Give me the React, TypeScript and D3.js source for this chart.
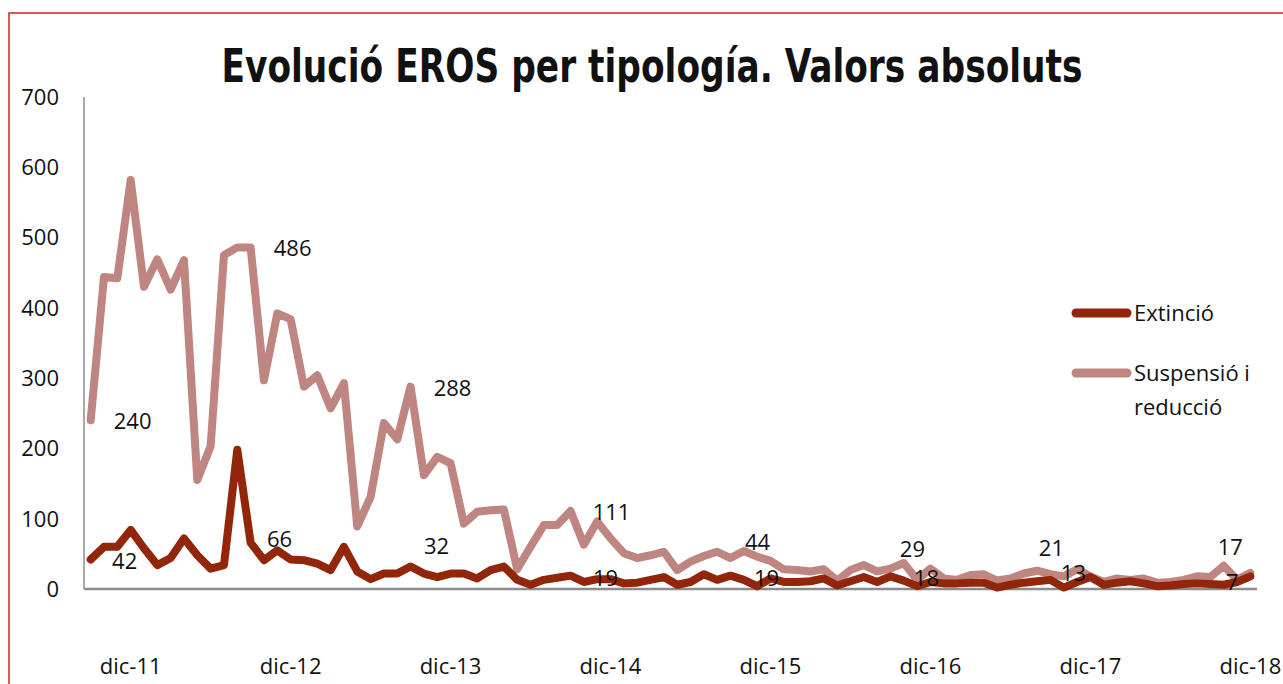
import { useEffect, useRef } from 'react'
import * as d3 from 'd3'

const title = 'Evolució EROS per tipología. Valors absoluts'

const seriesNames = ['Extinció', 'Suspensió i reducció']

// monthly values, sep-11 .. dic-18
const extincio = [
  42, 60, 60, 84, 58, 34, 44, 72, 48, 29, 34, 198,
  66, 41, 55, 42, 41, 36, 27, 60, 25, 14, 22, 22,
  32, 22, 17, 22, 22, 15, 27, 32, 13, 6, 13, 16,
  19, 10, 14, 14, 8, 9, 13, 17, 6, 10, 21, 13,
  19, 13, 4, 15, 10, 10, 11, 15, 5, 11, 17, 10,
  18, 12, 4, 10, 8, 8, 9, 9, 2, 6, 9, 11,
  13, 2, 10, 17, 6, 9, 11, 8, 4, 5, 7, 8,
  7, 6, 10, 18,
]

const suspensio = [
  240, 444, 442, 582, 430, 469, 426, 468, 155, 203, 475, 486,
  486, 297, 392, 384, 288, 304, 257, 293, 89, 131, 236, 213,
  288, 162, 188, 179, 93, 110, 112, 113, 28, 60, 91, 91,
  111, 63, 96, 72, 51, 44, 48, 53, 27, 39, 47, 53,
  44, 54, 46, 40, 28, 27, 25, 28, 12, 27, 34, 25,
  29, 37, 13, 29, 15, 13, 20, 21, 12, 15, 22, 26,
  21, 18, 28, 18, 10, 15, 13, 15, 9, 10, 13, 18,
  17, 33, 13, 23,
]

const monthAbbr = ['ene', 'feb', 'mar', 'abr', 'may', 'jun', 'jul', 'ago', 'sep', 'oct', 'nov', 'dic']
const categories = Array.from({ length: extincio.length }, (_, i) => {
  const m = (8 + i) % 12
  const y = 11 + Math.floor((8 + i) / 12)
  return `${monthAbbr[m]}-${y}`
})

const xTickLabels = ['dic-11', 'dic-12', 'dic-13', 'dic-14', 'dic-15', 'dic-16', 'dic-17', 'dic-18']
const yTicks = [0, 100, 200, 300, 400, 500, 600, 700]

// points that carry a data label (every September)
const labelledMonths = ['sep-11', 'sep-12', 'sep-13', 'sep-14', 'sep-15', 'sep-16', 'sep-17', 'sep-18']

export default function App() {
  const ref = useRef<SVGSVGElement | null>(null)

  useEffect(() => {
    if (!ref.current) return
    const svg = d3.select(ref.current)
    svg.selectAll('*').remove()

    const width = 1283
    const height = 684
    const plot = { left: 84, right: 1257, top: 97, bottom: 589 }
    const font = "'Open Sans', 'Liberation Sans', sans-serif"
    const colors = ['#92260b', '#bf8580']

    svg.attr('width', width).attr('height', height)

    svg.append('rect').attr('width', width).attr('height', height).attr('fill', '#fff')

    // outer frame
    svg.append('rect')
      .attr('x', 9).attr('y', 13).attr('width', 1300).attr('height', 700)
      .attr('fill', 'none').attr('stroke', '#cf2027').attr('stroke-width', 1.5)

    const x = d3.scalePoint<string>().domain(categories).range([plot.left, plot.right]).padding(0.5)
    const y = d3.scaleLinear().domain([0, 700]).range([plot.bottom, plot.top])

    // title
    svg.append('text')
      .attr('x', 652).attr('y', 82)
      .attr('text-anchor', 'middle')
      .attr('textLength', 861).attr('lengthAdjust', 'spacingAndGlyphs')
      .style('font-family', "'Liberation Sans Narrow', 'DejaVu Sans Condensed', sans-serif")
      .style('font-weight', 'bold')
      .style('font-size', '46px')
      .attr('fill', '#111')
      .text(title)

    // y tick labels
    svg.append('g').selectAll('text').data(yTicks).join('text')
      .attr('x', 59).attr('y', d => y(d)).attr('dy', '0.36em')
      .attr('text-anchor', 'end')
      .style('font-family', font).style('font-size', '22px')
      .attr('fill', '#111')
      .text(d => d)

    // axes lines
    svg.append('line')
      .attr('x1', plot.left).attr('x2', plot.left).attr('y1', y(700)).attr('y2', plot.bottom)
      .attr('stroke', '#8c8c8c').attr('stroke-width', 1.5)
    svg.append('line')
      .attr('x1', plot.left).attr('x2', plot.right).attr('y1', plot.bottom).attr('y2', plot.bottom)
      .attr('stroke', '#8c8c8c').attr('stroke-width', 2.5)

    // x tick labels
    svg.append('g').selectAll('text').data(xTickLabels).join('text')
      .attr('x', d => x(d)!).attr('y', 666).attr('dy', '0.36em')
      .attr('text-anchor', 'middle')
      .style('font-family', font).style('font-size', '22px')
      .attr('fill', '#111')
      .text(d => d)

    const line = d3.line<number>()
      .x((_, i) => x(categories[i])!)
      .y(d => y(d))

    const series = [extincio, suspensio]
    // draw suspensió first so extinció sits on top
    ;[1, 0].forEach(k => {
      svg.append('path')
        .datum(series[k])
        .attr('fill', 'none')
        .attr('stroke', colors[k])
        .attr('stroke-width', 8)
        .attr('stroke-linejoin', 'round')
        .attr('stroke-linecap', 'round')
        .attr('d', line)
    })

    // data labels, nudged as in the original
    const nudges = [
      [[34, 2], [29, -4], [26, -20], [35, 2], [36, 2], [36, 2], [23, -7], [22, -2]],
      [[42, 1], [42, 1], [42, 2], [41, 1], [27, -16], [22, -20], [1, -26], [20, -30]],
    ]
    const labelGroup = svg.append('g')
    ;[1, 0].forEach(k => {
      labelledMonths.forEach((m, j) => {
        const i = categories.indexOf(m)
        if (i < 0) return
        const v = series[k][i]
        labelGroup.append('text')
          .attr('x', x(m)! + nudges[k][j][0])
          .attr('y', y(v) + nudges[k][j][1])
          .attr('dy', '0.36em')
          .attr('text-anchor', 'middle')
          .style('font-family', font).style('font-size', '22px')
          .attr('fill', '#111')
          .text(v)
      })
    })

    // legend
    const legendRows = [
      { y: 313, lines: [seriesNames[0]] },
      { y: 373, lines: ['Suspensió i', 'reducció'] },
    ]
    legendRows.forEach((row, k) => {
      svg.append('line')
        .attr('x1', 1076).attr('x2', 1127).attr('y1', row.y).attr('y2', row.y)
        .attr('stroke', colors[k]).attr('stroke-width', 9).attr('stroke-linecap', 'round')
      row.lines.forEach((t, j) => {
        svg.append('text')
          .attr('x', 1134).attr('y', row.y + j * 34).attr('dy', '0.36em')
          .style('font-family', font).style('font-size', '22px')
          .attr('fill', '#111')
          .text(t)
      })
    })
  }, [])

  return (
    <svg ref={ref} style={{ position: 'absolute', left: 0, top: 0, display: 'block' }}></svg>
  )
}
